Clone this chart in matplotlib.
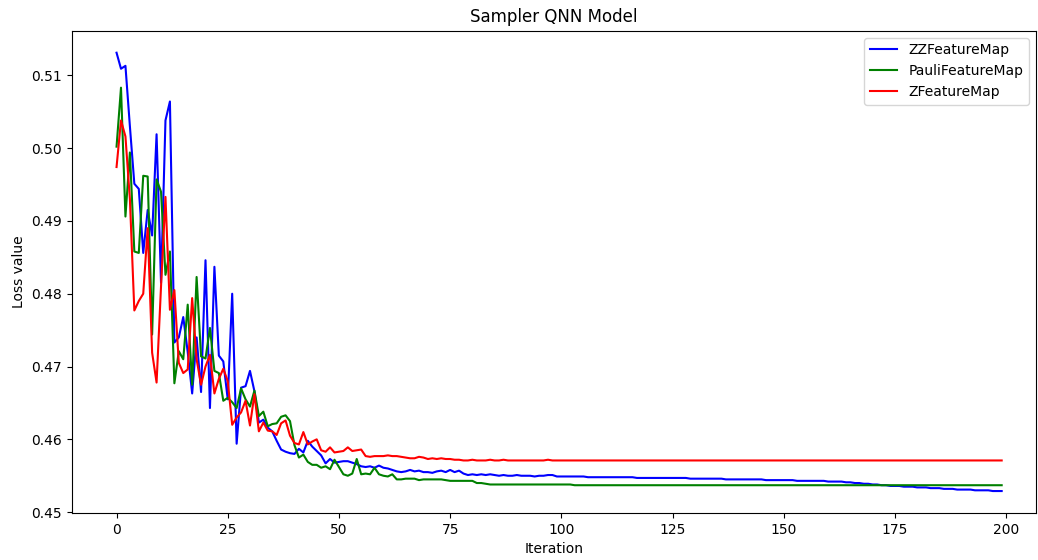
import matplotlib
matplotlib.use('Agg')
import matplotlib.pyplot as plt

# loss values, one per iteration (0..199)
zz_loss = [
    0.5131, 0.5109, 0.5113, 0.5030, 0.4951, 0.4944, 0.4856, 0.4915, 0.4880, 0.5019,
    0.4815, 0.5038, 0.5064, 0.4733, 0.4740, 0.4768, 0.4720, 0.4663, 0.4740, 0.4665,
    0.4846, 0.4643, 0.4837, 0.4715, 0.4707, 0.4655, 0.4800, 0.4594, 0.4671, 0.4673,
    0.4694, 0.4666, 0.4623, 0.4627, 0.4616, 0.4611, 0.4598, 0.4586, 0.4583, 0.4581,
    0.4580, 0.4587, 0.4582, 0.4598, 0.4590, 0.4584, 0.4578, 0.4567, 0.4573, 0.4568,
    0.4569, 0.4570, 0.4570, 0.4568, 0.4566, 0.4563, 0.4562, 0.4563, 0.4561, 0.4564,
    0.4561, 0.4560, 0.4558, 0.4556, 0.4555, 0.4556, 0.4558, 0.4556, 0.4557, 0.4555,
    0.4555, 0.4554, 0.4556, 0.4557, 0.4555, 0.4558, 0.4555, 0.4557, 0.4553, 0.4551,
    0.4552, 0.4551, 0.4552, 0.4551, 0.4552, 0.4551, 0.4550, 0.4551, 0.4550, 0.4550,
    0.4551, 0.4550, 0.4550, 0.4550, 0.4549, 0.4550, 0.4550, 0.4551, 0.4551, 0.4549,
    0.4549, 0.4549, 0.4549, 0.4549, 0.4549, 0.4549, 0.4548, 0.4548, 0.4548, 0.4548,
    0.4548, 0.4548, 0.4548, 0.4548, 0.4548, 0.4548, 0.4548, 0.4547, 0.4547, 0.4547,
    0.4547, 0.4547, 0.4547, 0.4547, 0.4547, 0.4547, 0.4547, 0.4547, 0.4547, 0.4546,
    0.4546, 0.4546, 0.4546, 0.4546, 0.4546, 0.4546, 0.4546, 0.4545, 0.4545, 0.4545,
    0.4545, 0.4545, 0.4545, 0.4545, 0.4545, 0.4545, 0.4544, 0.4544, 0.4544, 0.4544,
    0.4544, 0.4544, 0.4544, 0.4543, 0.4543, 0.4543, 0.4543, 0.4543, 0.4543, 0.4543,
    0.4542, 0.4542, 0.4542, 0.4542, 0.4541, 0.4541, 0.4540, 0.4540, 0.4539, 0.4539,
    0.4538, 0.4538, 0.4537, 0.4537, 0.4536, 0.4536, 0.4536, 0.4535, 0.4535, 0.4535,
    0.4534, 0.4534, 0.4534, 0.4533, 0.4533, 0.4533, 0.4532, 0.4532, 0.4532, 0.4531,
    0.4531, 0.4531, 0.4531, 0.4530, 0.4530, 0.4530, 0.4530, 0.4529, 0.4529, 0.4529,
]

pauli_loss = [
    0.5002, 0.5083, 0.4906, 0.4994, 0.4858, 0.4856, 0.4962, 0.4961, 0.4744, 0.4957,
    0.4940, 0.4826, 0.4858, 0.4677, 0.4721, 0.4710, 0.4785, 0.4675, 0.4823, 0.4714,
    0.4711, 0.4753, 0.4694, 0.4691, 0.4653, 0.4657, 0.4651, 0.4643, 0.4670, 0.4655,
    0.4645, 0.4667, 0.4632, 0.4638, 0.4618, 0.4621, 0.4622, 0.4631, 0.4633, 0.4625,
    0.4592, 0.4575, 0.4579, 0.4569, 0.4565, 0.4565, 0.4561, 0.4563, 0.4559, 0.4572,
    0.4562, 0.4552, 0.4550, 0.4553, 0.4573, 0.4552, 0.4553, 0.4552, 0.4561, 0.4552,
    0.4550, 0.4549, 0.4552, 0.4545, 0.4545, 0.4546, 0.4546, 0.4546, 0.4544, 0.4545,
    0.4545, 0.4545, 0.4545, 0.4545, 0.4544, 0.4543, 0.4543, 0.4543, 0.4543, 0.4543,
    0.4543, 0.4540, 0.4540, 0.4539, 0.4538, 0.4538, 0.4538, 0.4538, 0.4538, 0.4538,
    0.4538, 0.4538, 0.4538, 0.4538, 0.4538, 0.4538, 0.4538, 0.4538, 0.4538, 0.4538,
    0.4538, 0.4538, 0.4538, 0.4537, 0.4537, 0.4537, 0.4537, 0.4537, 0.4537, 0.4537,
    0.4537, 0.4537, 0.4537, 0.4537, 0.4537, 0.4537, 0.4537, 0.4537, 0.4537, 0.4537,
    0.4537, 0.4537, 0.4537, 0.4537, 0.4537, 0.4537, 0.4537, 0.4537, 0.4537, 0.4537,
    0.4537, 0.4537, 0.4537, 0.4537, 0.4537, 0.4537, 0.4537, 0.4537, 0.4537, 0.4537,
    0.4537, 0.4537, 0.4537, 0.4537, 0.4537, 0.4537, 0.4537, 0.4537, 0.4537, 0.4537,
    0.4537, 0.4537, 0.4537, 0.4537, 0.4537, 0.4537, 0.4537, 0.4537, 0.4537, 0.4537,
    0.4537, 0.4537, 0.4537, 0.4537, 0.4537, 0.4537, 0.4537, 0.4537, 0.4537, 0.4537,
    0.4537, 0.4537, 0.4537, 0.4537, 0.4537, 0.4537, 0.4537, 0.4537, 0.4537, 0.4537,
    0.4537, 0.4537, 0.4537, 0.4537, 0.4537, 0.4537, 0.4537, 0.4537, 0.4537, 0.4537,
    0.4537, 0.4537, 0.4537, 0.4537, 0.4537, 0.4537, 0.4537, 0.4537, 0.4537, 0.4537,
]

z_loss = [
    0.4974, 0.5038, 0.5016, 0.4930, 0.4777, 0.4790, 0.4800, 0.4890, 0.4719, 0.4678,
    0.4810, 0.4933, 0.4778, 0.4805, 0.4705, 0.4691, 0.4696, 0.4794, 0.4710, 0.4675,
    0.4700, 0.4716, 0.4663, 0.4683, 0.4697, 0.4680, 0.4620, 0.4630, 0.4637, 0.4653,
    0.4619, 0.4662, 0.4611, 0.4623, 0.4612, 0.4611, 0.4606, 0.4622, 0.4626, 0.4605,
    0.4595, 0.4593, 0.4610, 0.4593, 0.4597, 0.4600, 0.4585, 0.4583, 0.4589, 0.4582,
    0.4583, 0.4584, 0.4589, 0.4584, 0.4585, 0.4586, 0.4577, 0.4576, 0.4577, 0.4577,
    0.4577, 0.4578, 0.4577, 0.4577, 0.4576, 0.4575, 0.4574, 0.4574, 0.4576, 0.4575,
    0.4573, 0.4574, 0.4573, 0.4574, 0.4573, 0.4573, 0.4572, 0.4572, 0.4571, 0.4571,
    0.4572, 0.4571, 0.4571, 0.4571, 0.4572, 0.4571, 0.4571, 0.4572, 0.4571, 0.4571,
    0.4571, 0.4571, 0.4571, 0.4571, 0.4571, 0.4571, 0.4571, 0.4572, 0.4571, 0.4571,
    0.4571, 0.4571, 0.4571, 0.4571, 0.4571, 0.4571, 0.4571, 0.4571, 0.4571, 0.4571,
    0.4571, 0.4571, 0.4571, 0.4571, 0.4571, 0.4571, 0.4571, 0.4571, 0.4571, 0.4571,
    0.4571, 0.4571, 0.4571, 0.4571, 0.4571, 0.4571, 0.4571, 0.4571, 0.4571, 0.4571,
    0.4571, 0.4571, 0.4571, 0.4571, 0.4571, 0.4571, 0.4571, 0.4571, 0.4571, 0.4571,
    0.4571, 0.4571, 0.4571, 0.4571, 0.4571, 0.4571, 0.4571, 0.4571, 0.4571, 0.4571,
    0.4571, 0.4571, 0.4571, 0.4571, 0.4571, 0.4571, 0.4571, 0.4571, 0.4571, 0.4571,
    0.4571, 0.4571, 0.4571, 0.4571, 0.4571, 0.4571, 0.4571, 0.4571, 0.4571, 0.4571,
    0.4571, 0.4571, 0.4571, 0.4571, 0.4571, 0.4571, 0.4571, 0.4571, 0.4571, 0.4571,
    0.4571, 0.4571, 0.4571, 0.4571, 0.4571, 0.4571, 0.4571, 0.4571, 0.4571, 0.4571,
    0.4571, 0.4571, 0.4571, 0.4571, 0.4571, 0.4571, 0.4571, 0.4571, 0.4571, 0.4571,
]

iterations = list(range(len(zz_loss)))

fig, ax = plt.subplots(figsize=(10.38, 5.6), dpi=100)

ax.plot(iterations, zz_loss, color='blue', label='ZZFeatureMap')
ax.plot(iterations, pauli_loss, color='green', label='PauliFeatureMap')
ax.plot(iterations, z_loss, color='red', label='ZFeatureMap')

ax.set_xlim(-10.1, 206.7)
ax.set_title('Sampler QNN Model')
ax.set_xlabel('Iteration')
ax.set_ylabel('Loss value')
ax.legend(loc='upper right')

plt.subplots_adjust(left=0.069, right=0.998, top=0.945, bottom=0.084)
plt.savefig('out.png')
